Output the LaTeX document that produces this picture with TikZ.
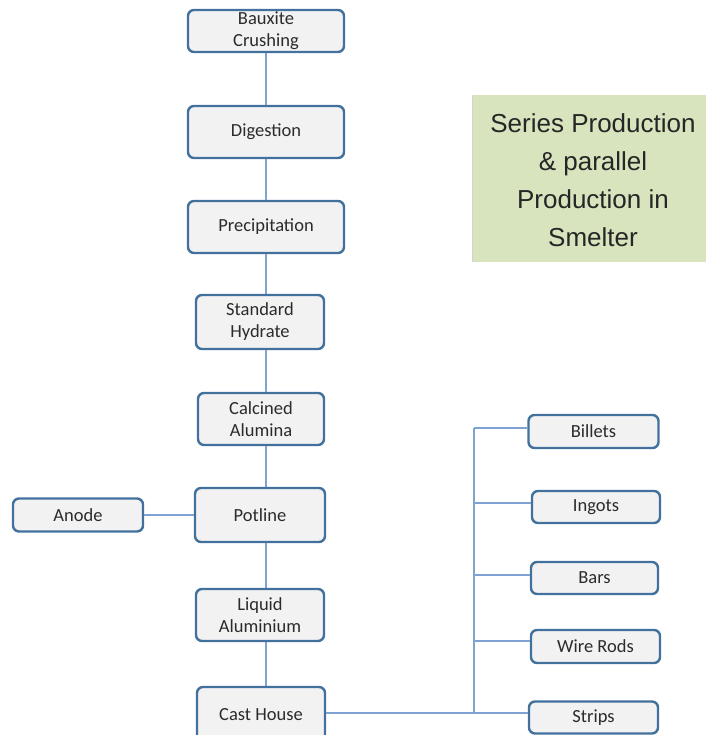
\documentclass[tikz,border=0pt]{standalone}
\usepackage{fontspec}
\setmainfont{Carlito}
\newfontfamily\arialfont{Liberation Sans}
\definecolor{boxborder}{HTML}{41719C}
\definecolor{boxfill}{HTML}{F2F2F2}
\definecolor{linkblue}{HTML}{7EA3D2}
\definecolor{greenfill}{HTML}{D7E4BD}
\definecolor{txt}{HTML}{2B2B2B}
\begin{document}
\begin{tikzpicture}[x=1pt,y=-1pt,
  procbox/.style={draw=boxborder, line width=2.4pt, fill=boxfill, rounded corners=6pt,
    inner sep=0pt, align=center, text=txt,
    font=\fontsize{18.5}{22}\selectfont},
  link/.style={draw=linkblue, line width=2pt}]
\useasboundingbox (0,0) rectangle (706,735);
\fill[greenfill] (472,95) rectangle (706,262);
\draw[gray!35, line width=0.8pt] (472,95) -- (472,262);
\node[text=black!85, align=center, font=\arialfont\fontsize{26}{38}\selectfont, inner sep=0pt]
  (title) at (593,180) {Series Production\\\& parallel\\Production in\\Smelter};

\coordinate (vx) at (266,0);

\node[procbox, minimum width=156pt, minimum height=42pt] (bc) at (266,31) {Bauxite\\Crushing};
\node[procbox, minimum width=156pt, minimum height=52pt] (dg) at (266,132) {Digestion};
\node[procbox, minimum width=156pt, minimum height=52pt] (pr) at (266,227) {Precipitation};
\node[procbox, minimum width=128pt, minimum height=54pt] (sh) at (260,322) {Standard\\Hydrate};
\node[procbox, minimum width=126pt, minimum height=52pt] (ca) at (261,419) {Calcined\\Alumina};
\node[procbox, minimum width=130pt, minimum height=54pt] (pl) at (260,515) {Potline};
\node[procbox, minimum width=130pt, minimum height=33pt] (an) at (78,515) {Anode};
\node[procbox, minimum width=128pt, minimum height=52pt] (la) at (260,615) {Liquid\\Aluminium};
\node[procbox, minimum width=128pt, minimum height=56pt] (ch) at (261,715) {Cast House};

\node[procbox, minimum width=130pt, minimum height=33pt] (bi) at (593.5,431.5) {Billets};
\node[procbox, minimum width=128pt, minimum height=32pt] (ig) at (596,507) {Ingots};
\node[procbox, minimum width=127pt, minimum height=32pt] (ba) at (594.5,578) {Bars};
\node[procbox, minimum width=129pt, minimum height=33pt] (wr) at (595.5,646.5) {Wire Rods};
\node[procbox, minimum width=129pt, minimum height=32pt] (st) at (593.5,717.5) {Strips};

\draw[link] (bc.south -| vx) -- (dg.north -| vx);
\draw[link] (dg.south -| vx) -- (pr.north -| vx);
\draw[link] (pr.south -| vx) -- (sh.north -| vx);
\draw[link] (sh.south -| vx) -- (ca.north -| vx);
\draw[link] (ca.south -| vx) -- (pl.north -| vx);
\draw[link] (pl.south -| vx) -- (la.north -| vx);
\draw[link] (la.south -| vx) -- (ch.north -| vx);
\draw[link] (an.east) -- (pl.west);

\coordinate (j0) at (474,712.5);
\coordinate (j1) at (474,428);
\draw[link] (ch.east |- j0) -- (j0) -- (st.west |- j0);
\draw[link] (j0) -- (j1);
\draw[link] (j1) -- (bi.west |- j1);
\draw[link] (j1 |- 0,503) coordinate (j2) -- (ig.west |- j2);
\draw[link] (j1 |- 0,575) coordinate (j3) -- (ba.west |- j3);
\draw[link] (j1 |- 0,641) coordinate (j4) -- (wr.west |- j4);
\end{tikzpicture}
\end{document}
